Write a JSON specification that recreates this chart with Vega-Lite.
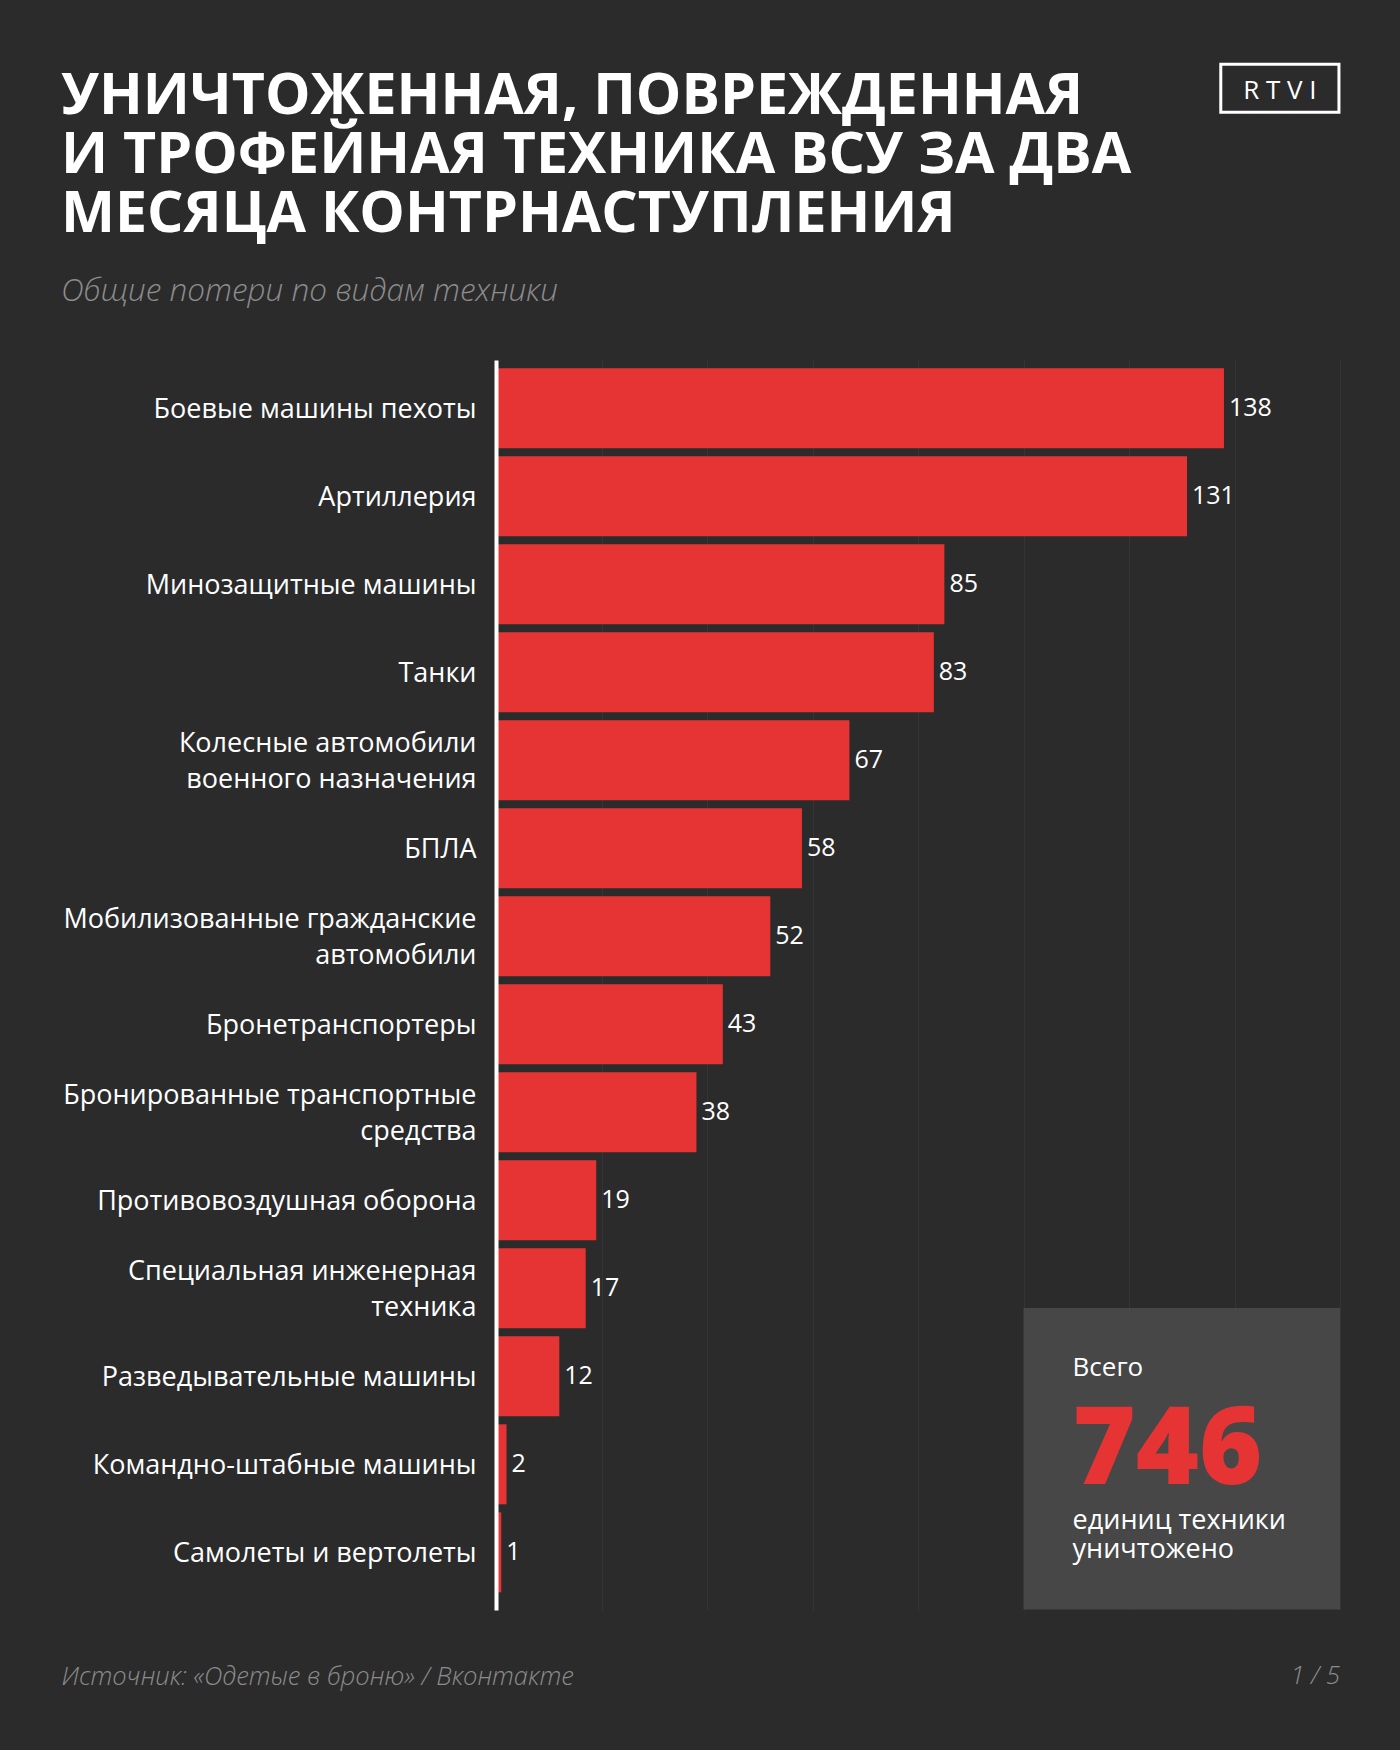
{
  "$schema": "https://vega.github.io/schema/vega-lite/v6.json",
  "width": 844,
  "height": 1250,
  "autosize": {"type": "none"},
  "padding": {"left": 496, "top": 360, "right": 60, "bottom": 140},
  "background": "#2b2b2b",
  "title": {
    "text": ["УНИЧТОЖЕННАЯ, ПОВРЕЖДЕННАЯ", "И ТРОФЕЙНАЯ ТЕХНИКА ВСУ ЗА ДВА", "МЕСЯЦА КОНТРНАСТУПЛЕНИЯ"],
    "subtitle": "Общие потери по видам техники",
    "anchor": "start",
    "frame": "group",
    "dx": -435,
    "dy": 296,
    "offset": 50,
    "font": "Open Sans",
    "fontSize": 57.3,
    "fontWeight": 700,
    "lineHeight": 59,
    "color": "#ffffff",
    "subtitleFont": "Open Sans",
    "subtitleFontSize": 31.5,
    "subtitleFontWeight": 300,
    "subtitleFontStyle": "italic",
    "subtitleColor": "#8c8c8c",
    "subtitlePadding": 32
  },
  "data": {
    "values": [
      {"type": "Боевые машины пехоты", "n": 138},
      {"type": "Артиллерия", "n": 131},
      {"type": "Минозащитные машины", "n": 85},
      {"type": "Танки", "n": 83},
      {"type": "Колесные автомобили\nвоенного назначения", "n": 67},
      {"type": "БПЛА", "n": 58},
      {"type": "Мобилизованные гражданские\nавтомобили", "n": 52},
      {"type": "Бронетранспортеры", "n": 43},
      {"type": "Бронированные транспортные\nсредства", "n": 38},
      {"type": "Противовоздушная оборона", "n": 19},
      {"type": "Специальная инженерная\nтехника", "n": 17},
      {"type": "Разведывательные машины", "n": 12},
      {"type": "Командно-штабные машины", "n": 2},
      {"type": "Самолеты и вертолеты", "n": 1}
    ]
  },
  "encoding": {
    "y": {
      "field": "type",
      "type": "nominal",
      "sort": null,
      "scale": {"paddingInner": 0.0909, "paddingOuter": 0.1477, "align": 0.32},
      "axis": {
        "title": null,
        "domain": true,
        "domainColor": "#ffffff",
        "domainWidth": 4,
        "ticks": false,
        "labelPadding": 20,
        "labelFont": "Open Sans",
        "labelFontSize": 27,
        "labelColor": "#ffffff",
        "labelLimit": 600,
        "labelLineHeight": 36,
        "labelExpr": "split(datum.label, '\\n')",
        "labelOffset": {"condition": {"test": "indexof(datum.label, '\\n') >= 0", "value": -16}, "value": 2},
        "grid": false,
        "zindex": 2
      }
    }
  },
  "layer": [
    {
      "mark": {"type": "bar", "color": "#e63434"},
      "encoding": {
        "x": {
          "field": "n",
          "type": "quantitative",
          "scale": {"domain": [0, 160], "nice": false},
          "axis": {
            "values": [20, 40, 60, 80, 100, 120, 140, 160],
            "labels": false,
            "ticks": false,
            "domain": false,
            "grid": true,
            "gridColor": "#ffffff",
            "gridOpacity": 0.05,
            "gridWidth": 1,
            "title": "Источник: «Одетые в броню» / Вконтакте",
            "titleFont": "Open Sans",
            "titleFontSize": 25.5,
            "titleFontStyle": "italic",
            "titleFontWeight": 300,
            "titleColor": "#8c8c8c",
            "titleAnchor": "start",
            "titleAlign": "left",
            "titleBaseline": "alphabetic",
            "titleX": -435,
            "titleY": 74
          }
        }
      }
    },
    {
      "mark": {"type": "text", "align": "left", "baseline": "middle", "dx": 5, "font": "Open Sans", "fontSize": 25, "color": "#ffffff"},
      "encoding": {
        "x": {"field": "n", "type": "quantitative"},
        "text": {"field": "n", "type": "quantitative"}
      }
    },
    {
      "data": {"values": [{}]},
      "mark": {"type": "rect", "color": "#4a4a4a", "opacity": 0.9},
      "encoding": {
        "x": {"datum": 100, "type": "quantitative"},
        "x2": {"datum": 160},
        "y": {"datum": "Специальная инженерная\nтехника", "bandPosition": 0.746},
        "y2": {"datum": "Самолеты и вертолеты", "bandPosition": 1.215}
      }
    },
    {
      "data": {"values": [{"t": "Всего"}]},
      "mark": {"type": "text", "align": "left", "baseline": "alphabetic", "font": "Open Sans", "fontSize": 26, "fontWeight": 500, "color": "#ffffff"},
      "encoding": {
        "x": {"datum": 109.3, "type": "quantitative"},
        "y": {"datum": "Разведывательные машины", "bandPosition": 0.5},
        "text": {"field": "t"}
      }
    },
    {
      "data": {"values": [{"t": "746"}]},
      "mark": {"type": "text", "align": "left", "baseline": "alphabetic", "font": "Open Sans", "fontSize": 108, "fontWeight": 800, "color": "#e63434"},
      "encoding": {
        "x": {"datum": 109.3, "type": "quantitative"},
        "y": {"datum": "Командно-штабные машины", "bandPosition": 0.746},
        "text": {"field": "t"}
      }
    },
    {
      "data": {"values": [{"t": ["единиц техники", "уничтожено"]}]},
      "mark": {"type": "text", "align": "left", "baseline": "alphabetic", "font": "Open Sans", "fontSize": 27, "fontWeight": 500, "lineHeight": 29, "color": "#ffffff"},
      "encoding": {
        "x": {"datum": 109.3, "type": "quantitative"},
        "y": {"datum": "Самолеты и вертолеты", "bandPosition": 0.21},
        "text": {"field": "t"}
      }
    },
    {
      "data": {"values": [{"t": "1 / 5"}]},
      "mark": {"type": "text", "align": "right", "baseline": "alphabetic", "font": "Open Sans", "fontSize": 25.5, "fontStyle": "italic", "fontWeight": 300, "color": "#8c8c8c"},
      "encoding": {
        "x": {"datum": 160, "type": "quantitative"},
        "y": {"datum": "Самолеты и вертолеты", "bandPosition": 2.146},
        "text": {"field": "t"}
      }
    },
    {
      "data": {"values": [{}]},
      "mark": {"type": "rect", "filled": false, "stroke": "#ffffff", "strokeWidth": 3},
      "encoding": {
        "x": {"datum": 137.4, "type": "quantitative"},
        "x2": {"datum": 159.8},
        "y": {"datum": "Боевые машины пехоты", "bandPosition": -3.8},
        "y2": {"datum": "Боевые машины пехоты", "bandPosition": -3.2}
      }
    },
    {
      "data": {"values": [{"t": "R T V I"}]},
      "mark": {"type": "text", "align": "center", "baseline": "alphabetic", "font": "Open Sans", "fontSize": 26, "fontWeight": 500, "color": "#ffffff"},
      "encoding": {
        "x": {"datum": 148.6, "type": "quantitative"},
        "y": {"datum": "Боевые машины пехоты", "bandPosition": -3.37},
        "text": {"field": "t"}
      }
    }
  ],
  "config": {
    "view": {"stroke": null}
  }
}
